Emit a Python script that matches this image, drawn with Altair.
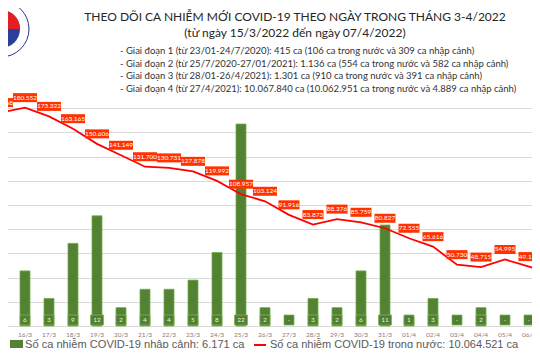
import altair as alt
import pandas as pd

# ---------------- data ----------------
title_lines = [
    "THEO DÕI CA NHIỄM MỚI COVID-19 THEO NGÀY TRONG THÁNG 3-4/2022",
    "(từ ngày 15/3/2022 đến ngày 07/4/2022)",
]
stage_lines = [
    "- Giai đoạn 1 (từ 23/01-24/7/2020): 415 ca (106 ca trong nước và 309 ca nhập cảnh)",
    "- Giai đoạn 2 (từ 25/7/2020-27/01/2021): 1.136 ca (554 ca trong nước và 582 ca nhập cảnh)",
    "- Giai đoạn 3 (từ 28/01-26/4/2021): 1.301 ca (910 ca trong nước và 391 ca nhập cảnh)",
    "- Giai đoạn 4 (từ 27/4/2021): 10.067.840 ca (10.062.951 ca trong nước và 4.889 ca nhập cảnh)",
]
legend_imported = "Số ca nhiễm COVID-19 nhập cảnh: 6.171 ca"
legend_domestic = "Số ca nhiễm COVID-19 trong nước: 10.064.521 ca"

dates = ["15/3", "16/3", "17/3", "18/3", "19/3", "20/3", "21/3", "22/3", "23/3",
         "24/3", "25/3", "26/3", "27/3", "28/3", "29/3", "30/3", "31/3",
         "01/4", "02/4", "03/4", "04/4", "05/4", "06/4", "07/4"]
imported = [12, 6, 3, 9, 12, 2, 4, 4, 5, 8, 22, 2, 0, 3, 2, 6, 11, 1, 3, 0, 2, 0, 0, 0]
domestic = [176468, 180552, 173322, 163165, 150606, 141149, 131700, 130731, 127878,
            119992, 108957, 103124, 91916, 83873, 88376, 85759, 80827,
            72555, 65616, 50730, 48715, 54995, 49124, 42948]
grid_values = [0, 20000, 40000, 60000, 80000, 100000, 120000, 140000, 160000, 180000]
shown_ticks = dates[1:-1]

df = pd.DataFrame({"date": dates, "imp": imported, "dom": domestic})
df["imp_label"] = [str(v) if v > 0 else "-" for v in imported]
df["dom_label"] = [f"{v:,}".replace(",", ".") for v in domestic]
df["s_imp"] = legend_imported
df["s_dom"] = legend_domestic

# ---------------- scales / encodings ----------------
x_enc = alt.X(
    "date:N", sort=dates,
    scale=alt.Scale(domain=dates, range=[-19, 557], paddingInner=0, paddingOuter=0),
    axis=alt.Axis(title=None, labelAngle=0, labelFontSize=6.5, labelColor="#808080",
                  labelFont="Lato", ticks=False, domainColor="#D9D9D9", labelPadding=5,
                  grid=False, values=shown_ticks),
)
bar_scale = alt.Scale(domain=[0, 34.64])
line_scale = alt.Scale(domain=[0, 262940])

base = alt.Chart(df)

bars = base.transform_filter("datum.imp > 0").mark_bar(
    size=10, stroke="#70AD47", strokeWidth=0.8
).encode(
    x=x_enc,
    y=alt.Y("imp:Q", scale=bar_scale, axis=None),
    fill=alt.Fill(
        "s_imp:N",
        scale=alt.Scale(domain=[legend_imported], range=["#548235"]),
        legend=alt.Legend(title=None, orient="none", legendX=2, legendY=330,
                          symbolType="M-1,-0.7H1V0.7H-1Z", symbolSize=169,
                          symbolStrokeWidth=0, labelFont="Liberation Sans",
                          labelFontSize=11.1, labelColor="#595959", labelOffset=2,
                          labelLimit=400, padding=0),
    ),
)

line = base.mark_line(strokeWidth=1.8).encode(
    x=x_enc,
    y=alt.Y("dom:Q", scale=line_scale,
            axis=alt.Axis(values=grid_values, grid=True, gridColor="#D9D9D9",
                          gridWidth=1, labels=False, ticks=False, domain=False,
                          title=None)),
    stroke=alt.Stroke(
        "s_dom:N",
        scale=alt.Scale(domain=[legend_domestic], range=["#FF0000"]),
        legend=alt.Legend(title=None, orient="none", legendX=245, legendY=330,
                          symbolType="stroke", symbolSize=144, symbolStrokeWidth=2,
                          labelFont="Liberation Sans", labelFontSize=11,
                          labelColor="#595959", labelOffset=3, labelLimit=400,
                          padding=0),
    ),
)

# line value labels (boxes + text)
box_big = base.transform_filter("datum.dom >= 100000").mark_point(
    shape="M-1,-0.375H1V0.375H-1Z", size=576, filled=True, color="#FF3300",
    opacity=1, strokeWidth=0, yOffset=-10
).encode(x=x_enc, y=alt.Y("dom:Q", scale=line_scale, axis=None))
box_small = base.transform_filter("datum.dom < 100000").mark_point(
    shape="M-1,-0.43H1V0.43H-1Z", size=441, filled=True, color="#FF3300",
    opacity=1, strokeWidth=0, yOffset=-10
).encode(x=x_enc, y=alt.Y("dom:Q", scale=line_scale, axis=None))
line_text = base.mark_text(
    font="Lato", fontSize=6.5, color="white", baseline="middle", yOffset=-10
).encode(x=x_enc, y=alt.Y("dom:Q", scale=line_scale, axis=None), text="dom_label:N")

# bar value labels (boxes + text at the bottom of bars)
bbox_one = base.transform_filter("length(datum.imp_label) == 1").mark_point(
    shape="square", size=100, filled=True, color="#4F7F2F", opacity=1,
    stroke="#7DB356", strokeWidth=0.8, yOffset=-6
).encode(x=x_enc, y=alt.YDatum(0, type="quantitative", scale=bar_scale, axis=None))
bbox_two = base.transform_filter("length(datum.imp_label) == 2").mark_point(
    shape="M-1,-0.77H1V0.77H-1Z", size=169, filled=True, color="#4F7F2F", opacity=1,
    stroke="#7DB356", strokeWidth=0.8, yOffset=-6
).encode(x=x_enc, y=alt.YDatum(0, type="quantitative", scale=bar_scale, axis=None))
bar_text = base.mark_text(
    font="Lato", fontSize=6.5, color="#EDEDED", baseline="middle", yOffset=-6
).encode(x=x_enc, y=alt.YDatum(0, type="quantitative", scale=bar_scale, axis=None),
         text="imp_label:N")

# header text
header = []
for i, t in enumerate(title_lines):
    header.append(
        alt.Chart(pd.DataFrame({"t": [t]})).mark_text(
            align="center", baseline="middle", font="Lato", fontSize=12, color="#262626"
        ).encode(x=alt.value(287), y=alt.value(9 + 16 * i), text="t:N")
    )
for i, t in enumerate(stage_lines):
    header.append(
        alt.Chart(pd.DataFrame({"t": [t]})).mark_text(
            align="left", baseline="middle", font="Lato", fontSize=9.5, color="#333333"
        ).encode(x=alt.value(112), y=alt.value(43 + 12.5 * i), text="t:N")
    )

# logo (partially cut at left edge)
one = pd.DataFrame({"k": [0]})
logo = [
    alt.Chart(one).mark_point(shape="circle", size=3136, filled=True, fill="white",
                              stroke="#2E3192", strokeWidth=1, opacity=1)
    .encode(x=alt.value(-7), y=alt.value(21)),
    alt.Chart(one).mark_point(shape="circle", size=1444, filled=True, color="#2B3F9A",
                              opacity=1)
    .encode(x=alt.value(-7), y=alt.value(21)),
    alt.Chart(one).mark_point(shape="M-1,0A1,1 0 0,1 1,0Z", size=1444, filled=True,
                              color="#E31E24", opacity=1, strokeWidth=0)
    .encode(x=alt.value(-7), y=alt.value(21)),
]

layers = header + logo + [bars, line, box_big, box_small, line_text,
                          bbox_one, bbox_two, bar_text]

chart = alt.layer(*layers).resolve_scale(y="independent").properties(
    width=524, height=318,
    autosize=alt.AutoSizeParams(type="none"),
    padding={"left": 0, "top": 0, "right": 0, "bottom": 22},
    background="white",
).configure_view(strokeWidth=0)

chart.save("out.html", embed_options={"renderer": "svg", "actions": False})
